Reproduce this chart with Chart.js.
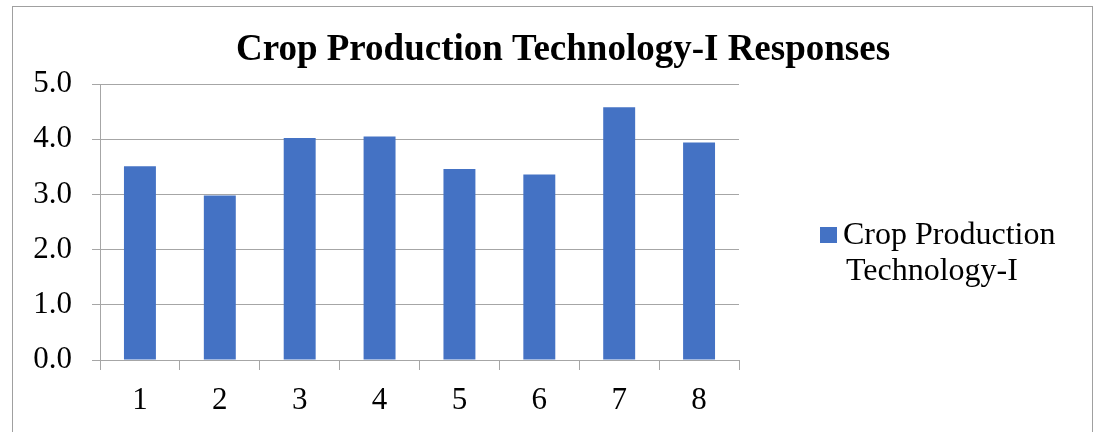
<!DOCTYPE html>
<html lang="en">
<head>
    <meta charset="UTF-8">
    <title>Crop Production Technology-I Responses</title>
    <style>
        body {
            margin: 0;
            background-color: #fff;
        }
        #chart-container {
            width: 1095px;
            height: 432px;
        }
    </style>
</head>
<body>
    <div id="chart-container">
        <canvas id="responseChart"></canvas>
    </div>

    <script src="https://cdn.jsdelivr.net/npm/chart.js"></script>
    <script>
        const chartTitle = 'Crop Production Technology-I Responses';
        const categories = ['1', '2', '3', '4', '5', '6', '7', '8'];
        const seriesName = 'Crop Production Technology-I';
        const responses = [3.51, 2.98, 4.02, 4.05, 3.46, 3.36, 4.58, 3.94];
        const yTicks = [0, 1, 2, 3, 4, 5];

        const serif = '"Liberation Serif", "Times New Roman", serif';
        const gridColor = '#a6a6a6';
        const barColor = '#4472c4';

        // frame, title and the two-line legend are drawn by hand
        const decorations = {
            id: 'decorations',
            afterDraw(chart) {
                const ctx = chart.ctx;
                ctx.save();
                ctx.strokeStyle = '#a0a0a0';
                ctx.lineWidth = 1;
                ctx.strokeRect(12.5, 6.5, 1080, 500);

                ctx.fillStyle = '#000';
                ctx.font = 'bold 37px ' + serif;
                ctx.textAlign = 'center';
                ctx.textBaseline = 'middle';
                ctx.fillText(chartTitle, 563, 50);

                ctx.fillStyle = barColor;
                ctx.fillRect(820, 227, 17, 16);
                ctx.fillStyle = '#000';
                ctx.font = '32px ' + serif;
                ctx.textAlign = 'left';
                const words = seriesName.split(' ');
                ctx.fillText(words.slice(0, 2).join(' '), 843, 236);
                ctx.fillText(words.slice(2).join(' '), 846, 272);
                ctx.restore();
            }
        };

        const ctx = document.getElementById('responseChart').getContext('2d');
        new Chart(ctx, {
            type: 'bar',
            data: {
                labels: categories,
                datasets: [{
                    label: seriesName,
                    data: responses,
                    backgroundColor: barColor,
                    categoryPercentage: 0.8,
                    barPercentage: 0.5
                }]
            },
            options: {
                responsive: true,
                maintainAspectRatio: false,
                animation: false,
                layout: {
                    padding: { top: 84, right: 356, left: 0, bottom: 0 }
                },
                scales: {
                    x: {
                        afterFit(scale) { scale.height = 72; },
                        grid: {
                            offset: true,
                            drawOnChartArea: false,
                            color: gridColor,
                            tickLength: 10
                        },
                        border: { color: gridColor },
                        ticks: {
                            color: '#000',
                            font: { family: serif, size: 31 },
                            padding: 12
                        }
                    },
                    y: {
                        min: 0,
                        max: 5,
                        afterFit(scale) { scale.width = 100; },
                        afterBuildTicks(scale) {
                            scale.ticks = yTicks.map(v => ({ value: v }));
                        },
                        grid: {
                            color: gridColor,
                            tickLength: 8
                        },
                        border: { color: gridColor },
                        ticks: {
                            color: '#000',
                            font: { family: serif, size: 31 },
                            padding: 20,
                            callback: v => Number(v).toFixed(1)
                        }
                    }
                },
                plugins: {
                    legend: { display: false },
                    title: { display: false },
                    tooltip: { enabled: false }
                }
            },
            plugins: [decorations]
        });
    </script>
</body>
</html>
